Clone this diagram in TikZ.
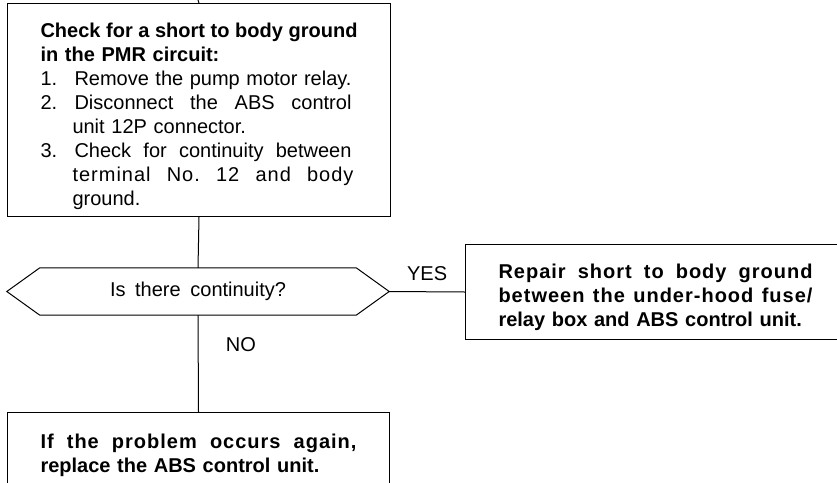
\documentclass[tikz,border=0pt]{standalone}
\usepackage{fontspec}
\setmainfont{Liberation Sans}
\usetikzlibrary{positioning,calc}

% spread one line of text over a given width
\newcommand{\spreadline}[2]{\makebox[#1][s]{\frenchspacing\spaceskip=0pt\xspaceskip=0pt #2}}
% same, with some tracking between the letters
\newcommand{\wideline}[2]{\spreadline{#1}{\addfontfeature{LetterSpace=5}#2}}
% numbered step with its text
\newcommand{\stepno}[2]{\makebox[34pt][l]{#1}\spreadline{277pt}{#2}}

\tikzset{
  box/.style={draw,line width=1pt,anchor=north west,align=left,
    inner ysep=0pt,font=\fontsize{20}{24}\selectfont},
  link/.style={line width=1pt},
  answer/.style={font=\fontsize{20}{23}\selectfont}
}

\begin{document}
\begin{tikzpicture}[x=1pt,y=-1pt]
                \useasboundingbox (0,0) rectangle (837,482);
                \clip (0,0) rectangle (837,482);
                % draw boxes
                \node[box,text width=317pt,inner xsep=33pt,minimum height=213pt] (check) at (7,3)
                  {\rule{0pt}{28pt}{\bfseries\spreadline{317pt}{Check for a short to body ground}}\\
                   {\bfseries in the PMR circuit:}\\
                   \stepno{1.}{Remove the pump motor relay.}\\
                   \stepno{2.}{Disconnect the ABS control}\\
                   \hspace*{32pt}unit 12P connector.\\
                   \stepno{3.}{Check for continuity between}\\
                   \hspace*{32pt}\wideline{281pt}{terminal No. 12 and body}\\
                   \hspace*{32pt}ground.};
                \node[answer,minimum width=382pt,minimum height=47pt,inner sep=0pt] (ask) at (198,291.5)
                  {\spreadline{176pt}{Is there continuity?}};
                \node[box,text width=314pt,inner xsep=33pt,minimum height=95pt] (repair) at (465,244)
                  {\rule{0pt}{25pt}{\bfseries\wideline{314pt}{Repair short to body ground}}\\
                   {\bfseries\wideline{314pt}{between the under-hood fuse/}}\\
                   {\bfseries relay box and ABS control unit.}};
                \node[box,text width=316pt,inner xsep=33pt,minimum height=79pt] (final) at (7,412)
                  {\rule{0pt}{22pt}{\bfseries\wideline{316pt}{If the problem occurs again,}}\\
                   {\bfseries replace the ABS control unit.}};
                % draw decision outline
                \draw[link] (ask.west) -- ([xshift=33pt]ask.north west) -- ([xshift=-33pt]ask.north east)
                  -- (ask.east) -- ([xshift=-33pt]ask.south east) -- ([xshift=33pt]ask.south west) -- cycle;
                % draw connectors
                \coordinate (in) at (198,0);
                \draw[link] (in) -- (check.north);
                \draw[link] (check.south) -- (ask.north);
                \draw[link] (ask.east) -- (repair.west) node[answer,midway,above=7pt] {YES};
                \draw[link] (ask.south) -- (final.north) node[answer,pos=0.3,right=24pt] {NO};
\end{tikzpicture}
\end{document}
